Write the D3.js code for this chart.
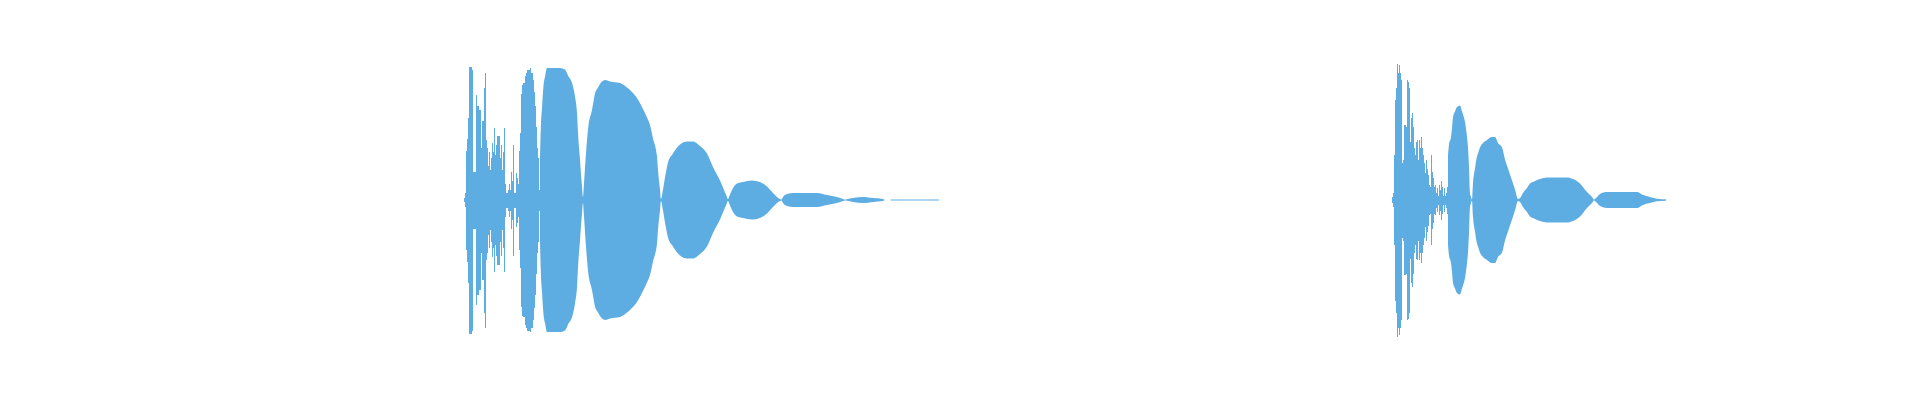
<!DOCTYPE html>
<html>
<head>
<meta charset="utf-8">
<script src="https://cdn.jsdelivr.net/npm/d3@7"></script>
<style>
    body { margin: 0; background: #fff; }
    svg { display: block; }
</style>
</head>
<body>
<svg width="1920" height="400"></svg>
<script>
"use strict";

// time in ms, amplitude in % of full scale
const STEP_MS = 2;
const clipStarts = [928, 2784];

// per-bin peaks for the attack of each clip (one value every STEP_MS)
const leftAttack = [
    1.3, 4.7, 33, 41, 55, 89, 89, 89, 87, 19, 19, 19, 70, 63, 63, 60, 60, 35, 53, 53,
    75, 85, 40, 35, 23, 32, 20, 28, 38, 32, 48, 30, 37, 43, 43, 43, 28, 37, 20, 32,
    48, 11, 5, 5, 7, 11, 7, 19, 13, 37, 5, 5, 18, 15, 11, 33, 45, 71, 77, 78,
    78, 83, 85, 87, 87, 87, 88, 85, 85, 80, 72, 63, 49, 35, 28, 7
];
const rightAttack = [
    2, 4.7, 30, 67, 75, 91, 85, 90, 85, 80, 25, 27, 50, 50, 49, 80, 79, 75, 39, 55,
    58, 49, 35, 30, 39, 40, 27, 40, 35, 42, 35, 30, 25, 18, 27, 21, 17, 10, 9, 30,
    19, 15, 9, 10, 5, 8, 3, 10, 7, 13, 9, 3, 8, 3, 5, 9
];

// envelope of the decaying part after the attack
const leftBodyTimes = [
    1080, 1082, 1084, 1086, 1088, 1090, 1094, 1120, 1130, 1136, 1144, 1150, 1154, 1156, 1160, 1164, 1166,
    1168, 1172, 1176, 1184, 1190, 1196, 1204, 1210, 1220, 1240, 1254, 1264, 1274, 1284, 1294, 1300, 1306,
    1314, 1316, 1320, 1322,
    1326, 1330, 1336, 1346, 1360, 1374, 1386, 1400, 1414, 1426, 1440, 1454, 1456,
    1458, 1466, 1474, 1486, 1504, 1520, 1534, 1546, 1560, 1563,
    1566, 1574, 1586, 1634, 1654, 1674, 1686, 1690,
    1694, 1706, 1726, 1746, 1766, 1770, 1780,
    1782, 1878
];
const leftBodyAmps = [
    28, 51, 61, 72, 79, 82, 88, 88, 87, 83, 78, 69, 58, 45, 27, 9, 2,
    11, 31, 47, 60, 71, 75, 79, 80, 79, 78, 75, 72, 68, 62, 55, 50, 41,
    29, 20, 7, 0.7,
    7, 15, 25, 31, 37, 39, 39, 36, 31, 22, 13, 2, 0.5,
    2, 8, 11, 12, 13, 12, 9, 4.7, 0.7, 0.3,
    2, 4, 4.7, 4.7, 3.3, 2, 0.7, 0.3,
    0.5, 1.3, 2, 1.3, 0.7, 0, 0,
    0.35, 0.35
];
const rightBodyTimes = [
    2896, 2898, 2902, 2904, 2906, 2910, 2914, 2920, 2924, 2926, 2930, 2934, 2936, 2938, 2940, 2942, 2944,
    2946, 2950, 2954, 2956, 2960, 2966, 2974, 2984, 2990, 2996, 3004, 3010, 3016, 3024, 3030, 3036,
    3040, 3046, 3054, 3060, 3066, 3080, 3094, 3134, 3146, 3160, 3174, 3184, 3188,
    3194, 3200, 3214, 3274, 3286, 3300, 3314, 3332
];
const rightBodyAmps = [
    30, 37, 42, 48, 55, 59, 62, 63, 59, 57, 52, 42, 35, 22, 4.7, 2, 0.3,
    11, 21, 29, 31, 35, 38, 40, 42, 42, 38, 35, 27, 21, 13, 7, 0.7,
    1.3, 4.7, 8, 11, 12, 14, 15, 15, 14, 11, 5.3, 2, 0.3,
    2, 4, 5.3, 5.3, 3.3, 2, 0.9, 0.5
];

const waveColor = '#5DADE2';

const svg = d3.select('svg');
const width = +svg.attr('width'),
    height = +svg.attr('height');

const x = d3.scaleLinear().domain([0, 3840]).range([0, width]);
const y = d3.scaleLinear().domain([-100, 100]).range([350, 50]);

function attackPoints(start, peaks) {
    const pts = peaks.map((v, i) => ({t: start + i * STEP_MS, a: v}));
    pts.push({t: start + peaks.length * STEP_MS, a: peaks[peaks.length - 1]});
    return pts;
}

function bodyPoints(times, amps) {
    return times.map((t, i) => ({t: t, a: amps[i]}));
}

const stepArea = d3.area()
    .curve(d3.curveStepAfter)
    .x(d => x(d.t))
    .y0(d => y(-d.a))
    .y1(d => y(d.a));

const smoothArea = d3.area()
    .curve(d3.curveMonotoneX)
    .x(d => x(d.t))
    .y0(d => y(-d.a))
    .y1(d => y(d.a));

const clips = [
    {attack: attackPoints(clipStarts[0], leftAttack), body: bodyPoints(leftBodyTimes, leftBodyAmps)},
    {attack: attackPoints(clipStarts[1], rightAttack), body: bodyPoints(rightBodyTimes, rightBodyAmps)}
];

const g = svg.append('g').attr('class', 'waveform');

clips.forEach(c => {
    g.append('path')
        .datum(c.attack)
        .attr('d', stepArea)
        .attr('fill', waveColor)
        .attr('shape-rendering', 'crispEdges');

    g.append('path')
        .datum(c.body)
        .attr('d', smoothArea)
        .attr('fill', waveColor);
});
</script>
</body>
</html>
